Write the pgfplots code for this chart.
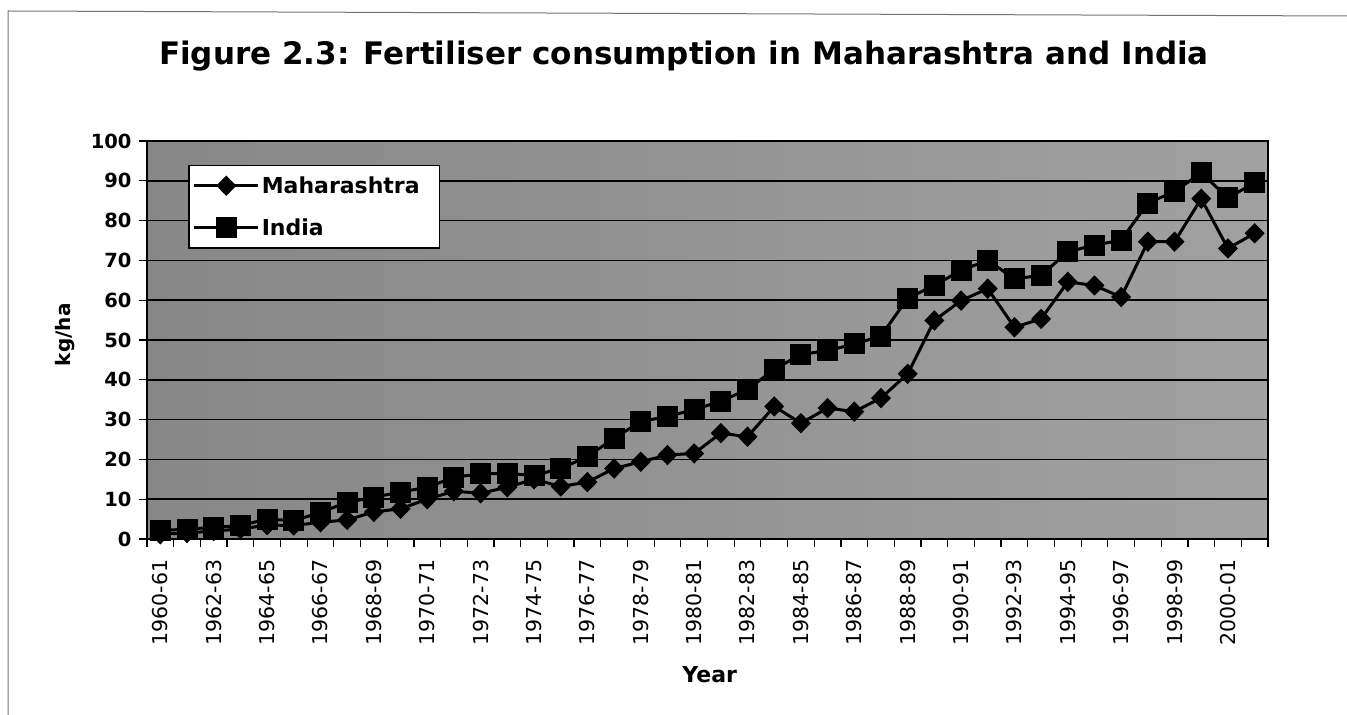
\documentclass[border=0pt]{standalone}
\usepackage{pgfplots}
\pgfplotsset{compat=1.18}
\usepackage{pgfplotstable}
\usepackage{fontspec}
\setmainfont{DejaVu Sans}

\pgfplotstableread{
x mah ind
0 1.2 2.1
1 1.5 2.5
2 2.0 2.9
3 2.5 3.4
4 3.5 5.0
5 3.4 4.6
6 4.2 6.7
7 4.8 9.2
8 6.8 10.5
9 7.6 11.8
10 10.0 13.0
11 12.0 15.5
12 11.5 16.4
13 13.0 16.4
14 15.0 16.0
15 13.2 17.7
16 14.3 20.7
17 17.7 25.3
18 19.4 29.5
19 21.1 30.8
20 21.5 32.5
21 26.6 34.6
22 25.7 37.6
23 33.3 42.6
24 29.1 46.4
25 32.9 47.3
26 32.0 49.0
27 35.4 51.0
28 41.5 60.5
29 54.9 63.7
30 59.9 67.5
31 62.9 70.0
32 53.2 65.4
33 55.3 66.2
34 64.6 72.2
35 63.7 73.8
36 60.8 75.1
37 74.7 84.4
38 74.7 87.3
39 85.5 92.0
40 73.0 85.7
41 76.8 89.5
}\datatable

\begin{document}
\begin{tikzpicture}
\path[use as bounding box] (0,0) rectangle (1347bp,715bp);
\draw[black!55, line width=1bp] (8bp,0bp) -- (8bp,704bp) -- (1347bp,699bp);
\begin{axis}[
  at={(147bp,176bp)}, anchor=south west,
  scale only axis, width=1121bp, height=398bp,
  xmin=-0.5, xmax=41.5, ymin=0, ymax=100,
  ytick={0,10,...,100},
  xtick={0,2,...,40},
  xticklabels={1960-61,1962-63,1964-65,1966-67,1968-69,1970-71,1972-73,1974-75,1976-77,1978-79,1980-81,1982-83,1984-85,1986-87,1988-89,1990-91,1992-93,1994-95,1996-97,1998-99,2000-01},
  minor xtick={-0.5,0.5,...,41.5},
  major x tick style={draw=none},
  xtick pos=bottom, ytick pos=left,
  tick align=outside,
  major tick length=8bp, minor tick length=8bp,
  every tick/.style={black, line width=1.2bp},
  ymajorgrids, grid style={black, line width=1.5bp},
  axis line style={line width=2bp},
  axis background/.style={shade, left color=black!47, right color=black!37},
  /pgf/number format/assume math mode=true,
  xticklabel style={rotate=90, anchor=east, xshift=-9bp, font=\fontsize{20.5bp}{24bp}\selectfont},
  yticklabel style={xshift=-4bp, font=\bfseries\fontsize{19.5bp}{23bp}\selectfont},
  title={Figure 2.3: Fertiliser consumption in Maharashtra and India},
  every axis title/.style={at={(axis description cs:0.479,1.191)}, anchor=base, font=\bfseries\fontsize{31bp}{36bp}\selectfont},
  xlabel={Year},
  every axis x label/.style={at={(axis description cs:0.502,-0.342)}, anchor=center, font=\bfseries\fontsize{22bp}{26bp}\selectfont},
  ylabel={kg/ha},
  every axis y label/.style={at={(axis description cs:-0.073,0.513)}, anchor=center, rotate=90, font=\bfseries\fontsize{20bp}{24bp}\selectfont},
  legend style={at={(axis description cs:0.0366,0.94)}, anchor=north west, draw=black, line width=1.5bp, fill=white, font=\bfseries\fontsize{22bp}{26bp}\selectfont, row sep=20bp, inner xsep=4bp, inner ysep=9bp},
  legend cell align=left,
  legend image code/.code={\draw[mark repeat=2,mark phase=2,#1] plot coordinates {(0bp,0bp) (32bp,0bp) (64bp,0bp)};},
]
\addplot[black, line width=3bp, mark=diamond*, mark size=9.5bp, mark options={line width=1bp, fill=black, xscale=1.3}] table[x=x,y=mah]{\datatable};
\addlegendentry{Maharashtra\kern14bp}
\addplot[black, line width=3bp, mark=square*, mark size=10bp, mark options={line width=1bp, fill=black}] table[x=x,y=ind]{\datatable};
\addlegendentry{India}
\end{axis}
\end{tikzpicture}
\end{document}
